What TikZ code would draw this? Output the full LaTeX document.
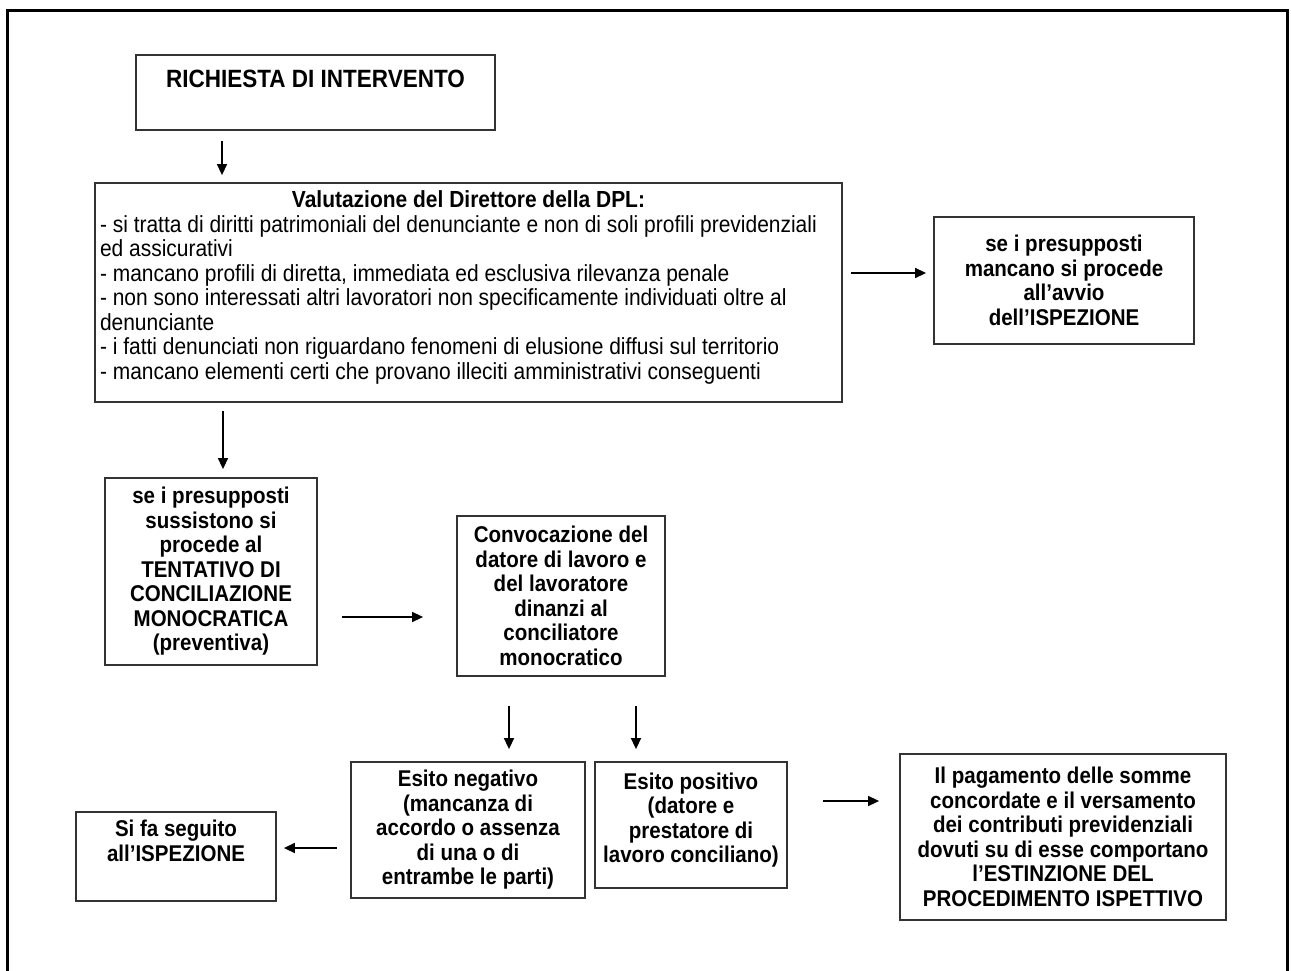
\documentclass[tikz,border=0pt]{standalone}
\usepackage{fontspec}
\setmainfont[FakeStretch=0.9]{Liberation Sans}
\usetikzlibrary{arrows.meta}

\begin{document}
\begin{tikzpicture}[x=1pt, y=-1pt,
  every node/.style = {draw=black!80, line width=1.8pt, inner sep=0pt,
    align=center, font=\bfseries\fontsize{22.8}{24.5}\selectfont},
  dim/.style 2 args = {minimum width=#1pt, minimum height=#2pt},
  arr/.style = {-{Triangle[length=11pt,width=10pt]}, line width=1.5pt}]
  \useasboundingbox (0,0) rectangle (1291,971);
  \draw[line width=3pt] (7,971) -- (7,11) -- (1287,11) -- (1287,971);

  \node[dim={359}{75}, font=\bfseries\fontsize{25}{27}\selectfont] (req) at (315.5,92.5)
    {RICHIESTA DI INTERVENTO\\[-8pt]\strut};
  \node[dim={747}{219}, text width=737pt, align=none,
    font=\fontsize{23.3}{24.5}\selectfont] (val) at (468.5,292.5)
    {{\centering\bfseries Valutazione del Direttore della DPL:\par}\raggedright
     - si tratta  di diritti patrimoniali del denunciante e non di soli profili previdenziali\\
     ed assicurativi\\
     - mancano profili di diretta, immediata ed esclusiva rilevanza penale\\
     - non sono interessati altri lavoratori non specificamente individuati oltre al\\
     denunciante\\
     - i fatti denunciati non riguardano fenomeni di elusione diffusi sul territorio\\
     - mancano elementi certi che provano illeciti amministrativi conseguenti\\[-10pt]\mbox{}};
  \node[dim={260}{127}] (miss) at (1064,280.5)
    {se i presupposti\\mancano si procede\\all’avvio\\dell’ISPEZIONE};
  \node[dim={212}{187}] (sus) at (211,571.5)
    {se i presupposti\\sussistono si\\procede al\\TENTATIVO DI\\CONCILIAZIONE\\MONOCRATICA\\(preventiva)};
  \node[dim={208}{160}] (conv) at (561,596)
    {Convocazione del\\datore di lavoro e\\del lavoratore\\dinanzi al\\conciliatore\\monocratico};
  \node[dim={234}{136}] (neg) at (468,830)
    {Esito negativo\\(mancanza di\\accordo o assenza\\di una o di\\entrambe le parti)};
  \node[dim={192}{126}] (pos) at (691,825)
    {Esito positivo\\(datore e\\prestatore di\\lavoro conciliano)\\[-10pt]\mbox{}};
  \node[dim={326}{166}] (pay) at (1063,837)
    {Il pagamento delle somme\\concordate e il versamento\\dei contributi previdenziali\\dovuti su di esse comportano\\l’ESTINZIONE DEL\\PROCEDIMENTO ISPETTIVO};
  \node[dim={200}{89}] (ins) at (176,856.5)
    {Si fa seguito\\all’ISPEZIONE\\\strut};

  \draw[arr, shorten <=10pt, shorten >=7pt] (req.south -| 222,0) -- (val.north -| 222,0);
  \draw[arr, shorten <=8pt, shorten >=7pt] (val.east |- 0,273) -- (miss.west |- 0,273);
  \draw[arr, shorten <=8pt, shorten >=8pt] (val.south -| 223,0) -- (sus.north -| 223,0);
  \draw[arr, shorten <=24pt, shorten >=33pt] (sus.east |- 0,617) -- (conv.west |- 0,617);
  \draw[arr, shorten <=29pt, shorten >=12pt] (conv.south -| 509,0) -- (neg.north -| 509,0);
  \draw[arr, shorten <=29pt, shorten >=12pt] (conv.south -| 636,0) -- (pos.north -| 636,0);
  \draw[arr, shorten <=13pt, shorten >=7pt] (neg.west |- 0,848) -- (ins.east |- 0,848);
  \draw[arr, shorten <=35pt, shorten >=20pt] (pos.east |- 0,801) -- (pay.west |- 0,801);
\end{tikzpicture}
\end{document}
